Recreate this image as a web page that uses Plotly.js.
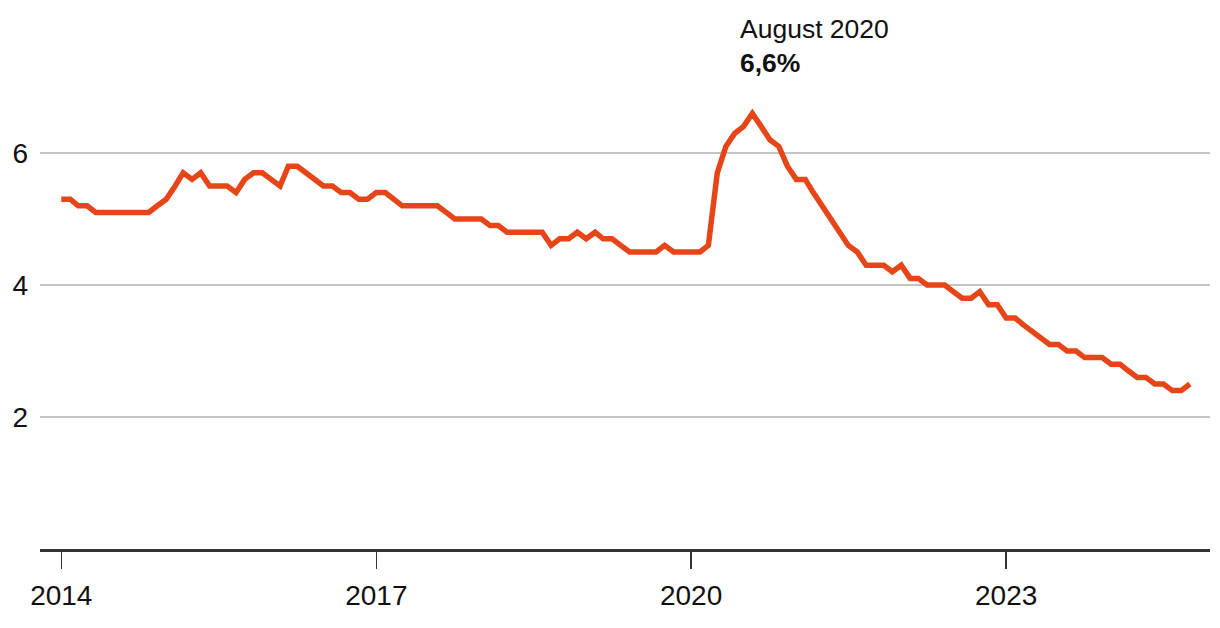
<!DOCTYPE html>
<html>
<head>
<meta charset="utf-8">
<script src="https://cdn.plot.ly/plotly-3.0.1.min.js"></script>
<style>
  html, body { margin: 0; padding: 0; background: #fff; }
  #chart { width: 1220px; height: 628px; }
</style>
</head>
<body>
<div id="chart"></div>
<script>
// Monthly values, January to December of each year (2024: Jan–Oct)
const startYear = 2014;
const v2014 = [5.3, 5.3, 5.2, 5.2, 5.1, 5.1, 5.1, 5.1, 5.1, 5.1, 5.1, 5.2];
const v2015 = [5.3, 5.5, 5.7, 5.6, 5.7, 5.5, 5.5, 5.5, 5.4, 5.6, 5.7, 5.7];
const v2016 = [5.6, 5.5, 5.8, 5.8, 5.7, 5.6, 5.5, 5.5, 5.4, 5.4, 5.3, 5.3];
const v2017 = [5.4, 5.4, 5.3, 5.2, 5.2, 5.2, 5.2, 5.2, 5.1, 5.0, 5.0, 5.0];
const v2018 = [5.0, 4.9, 4.9, 4.8, 4.8, 4.8, 4.8, 4.8, 4.6, 4.7, 4.7, 4.8];
const v2019 = [4.7, 4.8, 4.7, 4.7, 4.6, 4.5, 4.5, 4.5, 4.5, 4.6, 4.5, 4.5];
const v2020 = [4.5, 4.5, 4.6, 5.7, 6.1, 6.3, 6.4, 6.6, 6.4, 6.2, 6.1, 5.8];
const v2021 = [5.6, 5.6, 5.4, 5.2, 5.0, 4.8, 4.6, 4.5, 4.3, 4.3, 4.3, 4.2];
const v2022 = [4.3, 4.1, 4.1, 4.0, 4.0, 4.0, 3.9, 3.8, 3.8, 3.9, 3.7, 3.7];
const v2023 = [3.5, 3.5, 3.4, 3.3, 3.2, 3.1, 3.1, 3.0, 3.0, 2.9, 2.9, 2.9];
const v2024 = [2.8, 2.8, 2.7, 2.6, 2.6, 2.5, 2.5, 2.4, 2.4, 2.5];

const yearly = [v2014, v2015, v2016, v2017, v2018, v2019, v2020, v2021, v2022, v2023, v2024];
const yTicks = [2, 4, 6];
const peakDate = '2020-08-01';
const peakValue = 6.6;
const peakLabel = 'August 2020';
const peakText = '6,6%';

const dates = [];
const values = [];
yearly.forEach((arr, i) => {
  arr.forEach((val, m) => {
    const mm = String(m + 1).padStart(2, '0');
    dates.push((startYear + i) + '-' + mm + '-01');
    values.push(val);
  });
});

const trace = {
  x: dates,
  y: values,
  type: 'scatter',
  mode: 'lines',
  line: { color: '#e64517', width: 5.5, shape: 'linear' },
  hoverinfo: 'x+y'
};

const font = 'Liberation Sans, Arial, sans-serif';

const layout = {
  width: 1220,
  height: 628,
  margin: { l: 40, r: 10, t: 54, b: 79, pad: 0 },
  paper_bgcolor: '#ffffff',
  plot_bgcolor: '#ffffff',
  showlegend: false,
  xaxis: {
    type: 'date',
    range: ['2013-10-19', '2024-12-10'],
    tick0: '2014-01-01',
    dtick: 'M36',
    tickformat: '%Y',
    ticks: 'outside',
    ticklen: 17,
    tickwidth: 1.5,
    tickcolor: '#333333',
    showline: true,
    linecolor: '#333333',
    linewidth: 2.5,
    showgrid: false,
    zeroline: false,
    ticklabelstandoff: 3,
    tickfont: { family: font, size: 28, color: '#111111' }
  },
  yaxis: {
    range: [0, 7.5],
    tickvals: yTicks,
    ticktext: yTicks.map(String),
    showgrid: true,
    gridcolor: '#c4c4c4',
    gridwidth: 1.5,
    zeroline: false,
    showline: false,
    ticks: '',
    ticklabelstandoff: 11,
    tickfont: { family: font, size: 28, color: '#111111' }
  },
  annotations: [{
    x: peakDate,
    y: peakValue,
    xref: 'x',
    yref: 'y',
    xanchor: 'left',
    yanchor: 'bottom',
    xshift: -14,
    yshift: 33,
    align: 'left',
    showarrow: false,
    text: peakLabel + '<br><b>' + peakText + '</b>',
    font: { family: font, size: 26.5, color: '#111111' }
  }]
};

Plotly.newPlot('chart', [trace], layout, { displayModeBar: false, staticPlot: true });
</script>
</body>
</html>
